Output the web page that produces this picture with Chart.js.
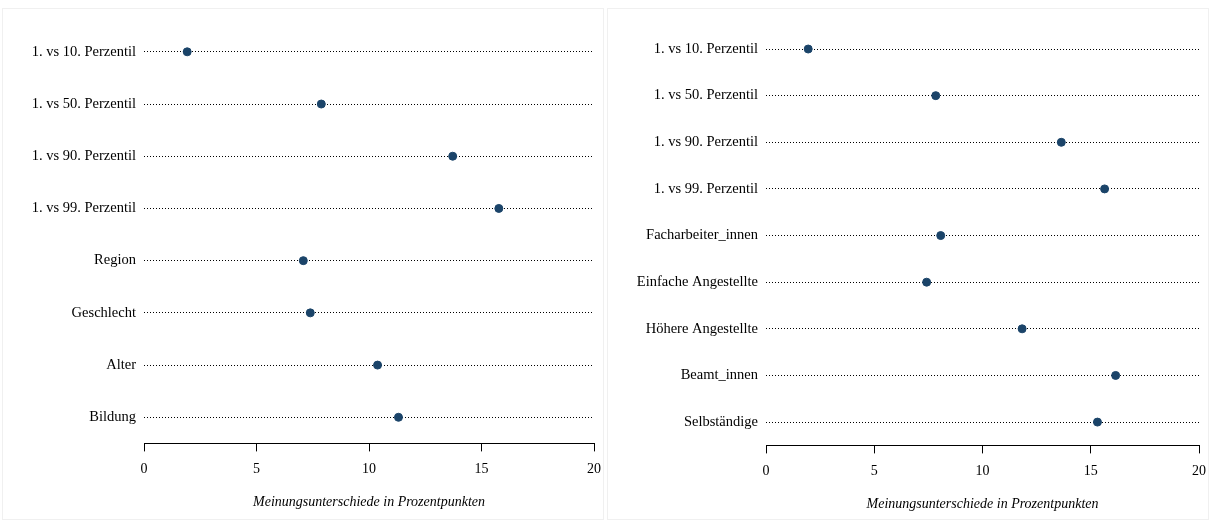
<!DOCTYPE html>
<html><head><meta charset="utf-8">
<script src="https://cdn.jsdelivr.net/npm/chart.js@4"></script>
<style>
body{margin:0;background:#fff;width:1209px;height:522px;overflow:hidden;position:relative}
.p{position:absolute;top:8px;height:510px;border:1px solid #f0f0f0}
.c{position:absolute;top:9px;height:510px}
</style></head><body>
<div class="p" style="left:2px;width:600px"></div>
<div class="p" style="left:607px;width:600px"></div>
<div class="c" style="left:3px;width:608px"><canvas id="c1"></canvas></div>
<div class="c" style="left:608px;width:608px"><canvas id="c2"></canvas></div>
<script>
const leftLabels=["1. vs 10. Perzentil","1. vs 50. Perzentil","1. vs 90. Perzentil","1. vs 99. Perzentil","Region","Geschlecht","Alter","Bildung"];
const leftValues=[1.92,7.88,13.72,15.77,7.08,7.39,10.38,11.31];
const rightLabels=["1. vs 10. Perzentil","1. vs 50. Perzentil","1. vs 90. Perzentil","1. vs 99. Perzentil","Facharbeiter_innen","Einfache Angestellte","Höhere Angestellte","Beamt_innen","Selbständige"];
const rightValues=[1.95,7.84,13.64,15.64,8.07,7.42,11.83,16.15,15.31];
const xTicks=[0,5,10,15,20];
const xTitle="Meinungsunterschiede in Prozentpunkten";
Chart.defaults.font.family="Liberation Serif";
Chart.defaults.color="#000";
function make(id,labels,values,yw,padB,padT){
 new Chart(document.getElementById(id),{type:'scatter',
  data:{datasets:[{data:labels.map((l,i)=>({x:values[i],y:l})),backgroundColor:'#1b4469',borderColor:'#1b4469',pointRadius:4}]},
  options:{responsive:true,maintainAspectRatio:false,animation:false,
   layout:{padding:{top:padT,right:5,bottom:padB,left:0}},
   plugins:{legend:{display:false},tooltip:{enabled:false}},
   scales:{
    x:{type:'linear',min:0,max:20,afterBuildTicks:s=>{s.ticks=xTicks.map(v=>({value:v}))},
     grid:{drawOnChartArea:false,tickLength:8,color:'#000'},border:{color:'#000'},
     ticks:{font:{size:14},padding:10},
     title:{display:true,text:xTitle,font:{size:14,style:'italic'},padding:{top:6}}},
    y:{type:'category',labels:labels,offset:true,afterFit:s=>{s.width=yw},
     grid:{color:'#000',drawTicks:false,lineWidth:1},border:{display:false,dash:[1,2]},
     ticks:{font:{size:14.5},padding:8}}
   }}});
}
make('c1',leftLabels,leftValues,141,4,9);
make('c2',rightLabels,rightValues,158,2,10);
</script></body></html>
